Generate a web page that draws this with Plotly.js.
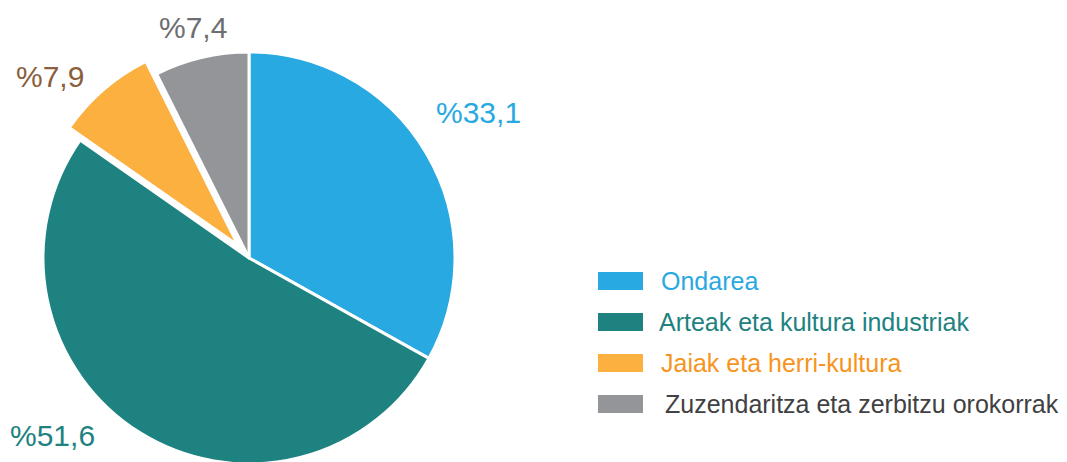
<!DOCTYPE html>
<html>
<head>
<meta charset="utf-8">
<script src="https://cdn.plot.ly/plotly-3.0.1.min.js"></script>
<style>html,body{margin:0;padding:0;background:#fff;overflow:hidden;}#chart{width:1067px;height:481px;}</style>
</head>
<body>
<div id="chart"></div>
<script>
const categories = ["Ondarea", "Arteak eta kultura industriak", "Jaiak eta herri-kultura", "Zuzendaritza eta zerbitzu orokorrak"];
const values = [33.1, 51.6, 7.9, 7.4];
const pulls = [0, 0, 0.08, 0];
const sliceColors = ["#29A9E1", "#1D8280", "#FBB040", "#939598"];
const valueLabelColors = ["#29A9E1", "#1D8280", "#8B5E3C", "#6D6E71"];
const legendTextColors = ["#29A9E1", "#1D8280", "#F7941D", "#414042"];

// paper is taller than the window so the pie bottom is clipped like the reference
const W = 1067, H = 481;
const px = x => x / W;
const py = y => 1 - y / H;

const cx = 249, cy = 258, r = 206, maxPull = 0.08;
const half = r * (1 + maxPull);

// value label positions (pixel centres)
const labelPos = [[478, 113], [52, 435], [50, 76], [193, 27]];

const annotations = [];
const shapes = [];
values.forEach((v, i) => {
  annotations.push({
    xref: 'paper', yref: 'paper', x: px(labelPos[i][0]), y: py(labelPos[i][1]),
    xanchor: 'center', yanchor: 'middle', showarrow: false,
    text: '%' + v.toFixed(1).replace('.', ','),
    font: {family: 'Liberation Sans, Arial, sans-serif', size: 30, color: valueLabelColors[i]}
  });
});
const legendY = [281, 322, 363, 404];
const legendTextX = [659, 657, 659, 663];
categories.forEach((c, i) => {
  shapes.push({
    type: 'rect', xref: 'paper', yref: 'paper',
    x0: px(598), x1: px(643), y0: py(legendY[i] - 9), y1: py(legendY[i] + 9),
    fillcolor: sliceColors[i], line: {width: 0}
  });
  annotations.push({
    xref: 'paper', yref: 'paper', x: px(legendTextX[i]), y: py(legendY[i]),
    xanchor: 'left', yanchor: 'middle', showarrow: false,
    text: c,
    font: {family: 'Liberation Sans, Arial, sans-serif', size: 25, color: legendTextColors[i]}
  });
});

const data = [{
  type: 'pie',
  labels: categories,
  values: values,
  pull: pulls,
  sort: false,
  direction: 'clockwise',
  rotation: 0,
  marker: {colors: sliceColors, line: {color: '#ffffff', width: 3}},
  textinfo: 'none',
  hoverinfo: 'label+percent',
  domain: {x: [px(cx - half), px(cx + half)], y: [py(cy + half), py(cy - half)]},
  showlegend: false
}];

const layout = {
  width: W, height: H,
  margin: {l: 0, r: 0, t: 0, b: 0},
  paper_bgcolor: '#ffffff',
  plot_bgcolor: '#ffffff',
  showlegend: false,
  annotations: annotations,
  shapes: shapes
};

Plotly.newPlot('chart', data, layout, {displayModeBar: false, staticPlot: true});
</script>
</body>
</html>
